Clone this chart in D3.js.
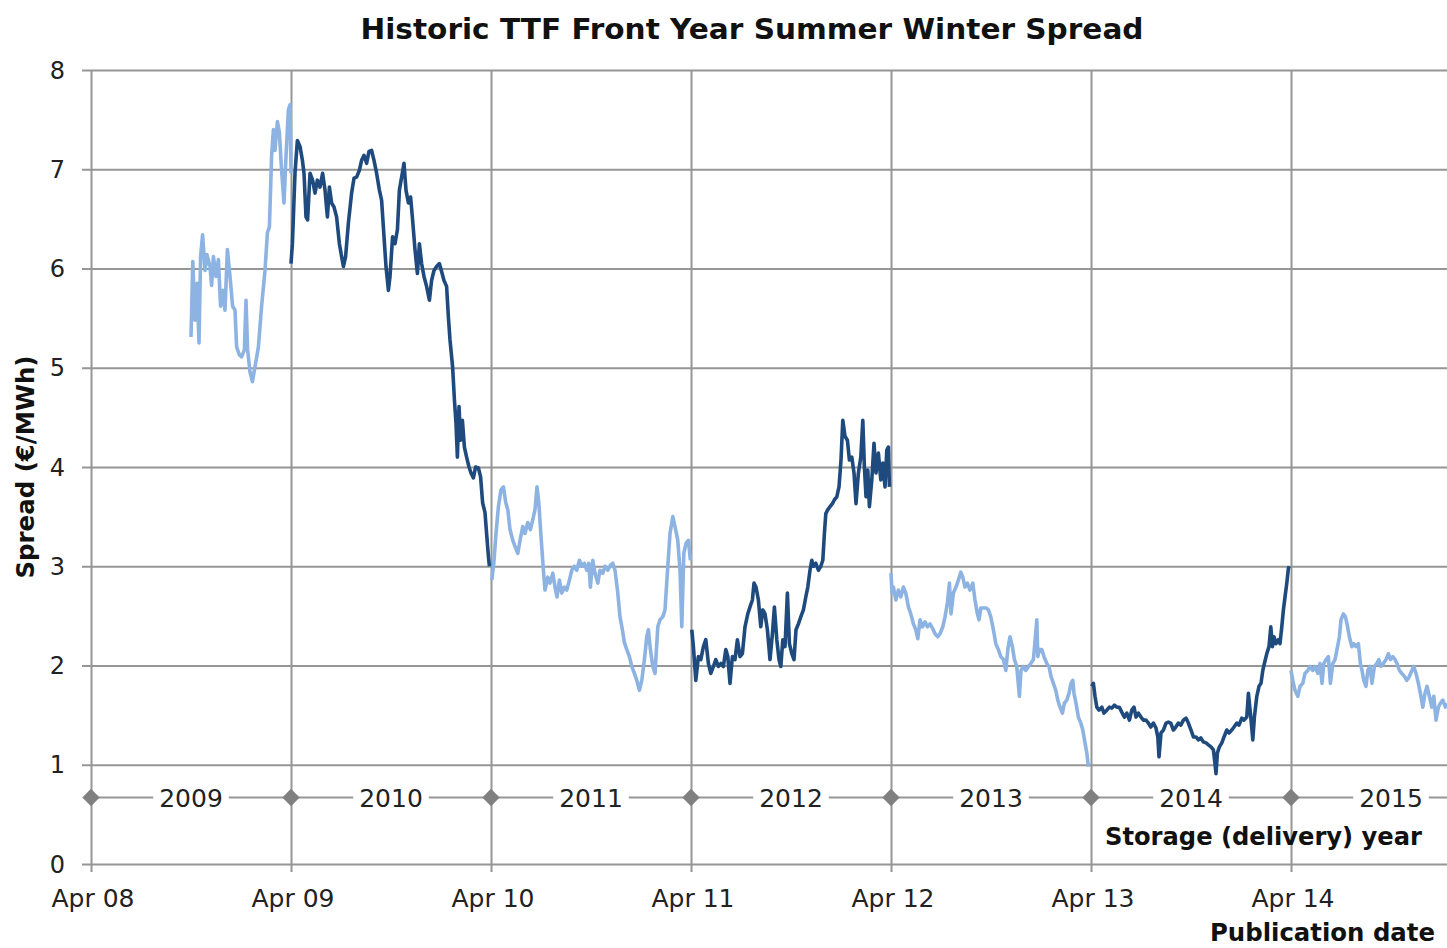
<!DOCTYPE html>
<html>
<head>
<meta charset="utf-8">
<script src="https://cdn.jsdelivr.net/npm/d3@7"></script>
<style>
  html, body { margin: 0; padding: 0; background: #fff; }
  svg { display: block; }
</style>
</head>
<body>
<svg id="chart" width="1447" height="948"></svg>
<script>
// ---------------- DATA ----------------
// Publication date as decimal year (Apr 1 = .25), spread in EUR/MWh
const storage2009 = [[2008.750,5.31],[2008.759,6.07],[2008.770,5.48],[2008.780,5.85],[2008.790,5.25],[2008.798,6.12],[2008.808,6.34],[2008.820,5.98],[2008.830,6.14],[2008.845,6.02],[2008.853,5.83],[2008.862,6.12],[2008.875,5.92],[2008.887,6.09],[2008.898,5.62],[2008.909,5.78],[2008.920,5.58],[2008.932,6.19],[2008.945,5.92],[2008.958,5.62],[2008.970,5.58],[2008.978,5.21],[2008.992,5.13],[2009.003,5.11],[2009.017,5.18],[2009.025,5.68],[2009.033,5.18],[2009.045,4.96],[2009.057,4.86],[2009.070,5.01],[2009.087,5.21],[2009.103,5.62],[2009.120,5.98],[2009.132,6.36],[2009.142,6.42],[2009.153,7.13],[2009.162,7.40],[2009.170,7.19],[2009.182,7.48],[2009.192,7.37],[2009.203,6.99],[2009.215,6.66],[2009.225,7.13],[2009.237,7.60],[2009.245,7.65],[2009.250,6.96]];
const storage2010 = [[2009.250,6.05],[2009.257,6.25],[2009.270,6.96],[2009.282,7.29],[2009.295,7.23],[2009.307,7.09],[2009.315,6.96],[2009.325,6.52],[2009.333,6.49],[2009.345,6.96],[2009.358,6.89],[2009.370,6.76],[2009.382,6.89],[2009.395,6.82],[2009.408,6.96],[2009.420,6.79],[2009.432,6.52],[2009.442,6.82],[2009.453,6.66],[2009.465,6.62],[2009.478,6.52],[2009.492,6.25],[2009.503,6.12],[2009.512,6.02],[2009.523,6.12],[2009.537,6.46],[2009.553,6.76],[2009.565,6.91],[2009.578,6.92],[2009.592,6.99],[2009.603,7.09],[2009.615,7.14],[2009.628,7.06],[2009.640,7.18],[2009.653,7.19],[2009.665,7.09],[2009.678,6.96],[2009.692,6.79],[2009.703,6.69],[2009.715,6.32],[2009.725,6.02],[2009.737,5.78],[2009.745,5.92],[2009.758,6.32],[2009.770,6.25],[2009.782,6.39],[2009.792,6.79],[2009.803,6.92],[2009.815,7.06],[2009.825,6.79],[2009.837,6.66],[2009.848,6.72],[2009.858,6.49],[2009.870,6.19],[2009.882,5.95],[2009.892,6.25],[2009.903,6.05],[2009.915,5.92],[2009.928,5.82],[2009.942,5.68],[2009.953,5.88],[2009.965,5.98],[2009.978,6.02],[2009.992,6.05],[2010.003,5.97],[2010.015,5.88],[2010.028,5.82],[2010.037,5.51],[2010.045,5.28],[2010.058,5.01],[2010.067,4.68],[2010.075,4.44],[2010.082,4.10],[2010.090,4.61],[2010.098,4.27],[2010.107,4.47],[2010.117,4.20],[2010.128,4.10],[2010.140,4.00],[2010.150,3.94],[2010.162,3.89],[2010.173,4.00],[2010.187,3.99],[2010.198,3.90],[2010.208,3.64],[2010.220,3.54],[2010.228,3.33],[2010.237,3.10],[2010.242,3.00]];
const storage2011 = [[2010.254,2.86],[2010.264,3.03],[2010.275,3.33],[2010.287,3.60],[2010.300,3.77],[2010.312,3.80],[2010.324,3.64],[2010.334,3.57],[2010.345,3.37],[2010.359,3.26],[2010.370,3.20],[2010.384,3.13],[2010.395,3.26],[2010.409,3.40],[2010.420,3.33],[2010.434,3.44],[2010.447,3.37],[2010.459,3.47],[2010.470,3.57],[2010.480,3.80],[2010.489,3.64],[2010.500,3.30],[2010.512,2.96],[2010.520,2.76],[2010.534,2.89],[2010.545,2.83],[2010.559,2.93],[2010.570,2.79],[2010.580,2.69],[2010.592,2.86],[2010.604,2.73],[2010.617,2.79],[2010.629,2.76],[2010.642,2.86],[2010.654,2.96],[2010.667,3.00],[2010.679,2.96],[2010.692,3.06],[2010.704,3.00],[2010.717,3.03],[2010.729,2.96],[2010.739,3.03],[2010.747,2.79],[2010.759,3.06],[2010.770,2.93],[2010.784,2.83],[2010.795,2.96],[2010.809,2.93],[2010.820,3.00],[2010.834,2.96],[2010.847,3.01],[2010.859,3.03],[2010.870,2.96],[2010.884,2.73],[2010.895,2.49],[2010.907,2.36],[2010.917,2.23],[2010.929,2.16],[2010.942,2.09],[2010.954,1.99],[2010.967,1.92],[2010.979,1.85],[2010.992,1.75],[2011.004,1.85],[2011.017,2.06],[2011.029,2.29],[2011.037,2.36],[2011.047,2.16],[2011.059,1.99],[2011.070,1.92],[2011.084,2.39],[2011.095,2.46],[2011.109,2.49],[2011.120,2.56],[2011.134,3.00],[2011.145,3.33],[2011.159,3.50],[2011.170,3.40],[2011.184,3.26],[2011.195,2.96],[2011.204,2.39],[2011.214,3.13],[2011.225,3.23],[2011.237,3.26],[2011.247,3.06]];
const storage2012 = [[2011.254,2.36],[2011.262,2.19],[2011.274,1.85],[2011.287,2.09],[2011.299,2.06],[2011.312,2.19],[2011.324,2.26],[2011.337,2.02],[2011.349,1.92],[2011.362,1.99],[2011.374,2.06],[2011.387,1.99],[2011.399,2.02],[2011.412,1.99],[2011.424,2.16],[2011.434,2.09],[2011.445,1.82],[2011.457,2.09],[2011.470,2.06],[2011.482,2.26],[2011.495,2.09],[2011.507,2.12],[2011.520,2.39],[2011.534,2.52],[2011.545,2.59],[2011.557,2.66],[2011.565,2.83],[2011.575,2.79],[2011.587,2.66],[2011.599,2.39],[2011.609,2.56],[2011.620,2.52],[2011.632,2.36],[2011.645,2.06],[2011.657,2.32],[2011.667,2.59],[2011.679,2.26],[2011.690,2.06],[2011.699,1.99],[2011.709,2.26],[2011.720,2.19],[2011.732,2.73],[2011.742,2.22],[2011.754,2.12],[2011.765,2.06],[2011.775,2.36],[2011.787,2.42],[2011.799,2.49],[2011.812,2.56],[2011.824,2.69],[2011.834,2.79],[2011.845,2.96],[2011.854,3.06],[2011.862,3.00],[2011.874,3.03],[2011.887,2.96],[2011.899,3.00],[2011.909,3.06],[2011.917,3.33],[2011.924,3.53],[2011.934,3.57],[2011.945,3.60],[2011.957,3.63],[2011.967,3.67],[2011.979,3.70],[2011.990,3.80],[2012.000,4.07],[2012.009,4.47],[2012.020,4.31],[2012.032,4.27],[2012.042,4.07],[2012.054,4.10],[2012.065,3.94],[2012.075,3.63],[2012.087,3.94],[2012.099,4.10],[2012.109,4.47],[2012.117,4.00],[2012.125,3.70],[2012.134,3.97],[2012.142,3.60],[2012.154,3.87],[2012.165,4.24],[2012.175,3.94],[2012.187,4.14],[2012.199,3.87],[2012.209,4.04],[2012.220,3.80],[2012.229,4.17],[2012.237,4.20],[2012.242,3.80]];
const storage2013 = [[2012.250,2.93],[2012.255,2.73],[2012.262,2.79],[2012.274,2.66],[2012.287,2.76],[2012.299,2.69],[2012.312,2.79],[2012.324,2.73],[2012.337,2.59],[2012.349,2.52],[2012.362,2.42],[2012.374,2.36],[2012.384,2.27],[2012.395,2.46],[2012.407,2.39],[2012.420,2.44],[2012.432,2.39],[2012.445,2.42],[2012.459,2.37],[2012.470,2.32],[2012.484,2.29],[2012.495,2.32],[2012.509,2.39],[2012.520,2.49],[2012.532,2.63],[2012.542,2.83],[2012.550,2.52],[2012.562,2.73],[2012.575,2.79],[2012.587,2.86],[2012.599,2.94],[2012.609,2.89],[2012.620,2.79],[2012.632,2.83],[2012.645,2.76],[2012.659,2.83],[2012.670,2.66],[2012.682,2.52],[2012.690,2.46],[2012.699,2.58],[2012.712,2.58],[2012.725,2.58],[2012.737,2.56],[2012.749,2.49],[2012.762,2.36],[2012.774,2.22],[2012.787,2.16],[2012.799,2.09],[2012.812,2.06],[2012.824,1.95],[2012.834,2.16],[2012.845,2.29],[2012.857,2.19],[2012.867,2.06],[2012.879,1.99],[2012.892,1.69],[2012.900,1.95],[2012.912,1.99],[2012.924,1.95],[2012.937,1.99],[2012.949,2.02],[2012.962,2.06],[2012.972,2.29],[2012.979,2.46],[2012.984,2.09],[2012.992,2.16],[2013.004,2.16],[2013.015,2.09],[2013.029,2.02],[2013.040,1.99],[2013.050,1.89],[2013.062,1.82],[2013.074,1.75],[2013.084,1.65],[2013.095,1.58],[2013.107,1.52],[2013.117,1.62],[2013.129,1.65],[2013.140,1.72],[2013.150,1.82],[2013.159,1.85],[2013.165,1.72],[2013.175,1.62],[2013.187,1.48],[2013.199,1.42],[2013.209,1.35],[2013.220,1.22],[2013.229,1.12],[2013.237,0.98]];
const storage2014 = [[2013.254,1.79],[2013.262,1.82],[2013.270,1.69],[2013.279,1.58],[2013.290,1.55],[2013.304,1.58],[2013.315,1.52],[2013.329,1.55],[2013.342,1.58],[2013.354,1.57],[2013.367,1.60],[2013.379,1.58],[2013.392,1.58],[2013.404,1.53],[2013.417,1.48],[2013.429,1.52],[2013.442,1.45],[2013.454,1.55],[2013.465,1.58],[2013.475,1.48],[2013.487,1.52],[2013.500,1.48],[2013.512,1.45],[2013.525,1.45],[2013.537,1.42],[2013.549,1.38],[2013.562,1.42],[2013.575,1.37],[2013.584,1.28],[2013.590,1.08],[2013.600,1.32],[2013.612,1.35],[2013.625,1.42],[2013.637,1.43],[2013.649,1.42],[2013.662,1.35],[2013.674,1.38],[2013.687,1.42],[2013.699,1.40],[2013.712,1.45],[2013.725,1.47],[2013.737,1.42],[2013.750,1.35],[2013.762,1.28],[2013.775,1.28],[2013.787,1.25],[2013.799,1.27],[2013.812,1.23],[2013.825,1.22],[2013.837,1.20],[2013.850,1.18],[2013.862,1.15],[2013.870,1.01],[2013.875,0.91],[2013.882,1.12],[2013.892,1.18],[2013.904,1.22],[2013.915,1.28],[2013.929,1.35],[2013.940,1.32],[2013.954,1.35],[2013.965,1.38],[2013.979,1.42],[2013.990,1.40],[2014.004,1.47],[2014.015,1.45],[2014.029,1.48],[2014.037,1.72],[2014.049,1.48],[2014.059,1.25],[2014.067,1.48],[2014.079,1.69],[2014.090,1.79],[2014.100,1.82],[2014.109,1.95],[2014.117,2.02],[2014.129,2.12],[2014.140,2.19],[2014.149,2.39],[2014.157,2.19],[2014.165,2.29],[2014.175,2.22],[2014.187,2.26],[2014.195,2.22],[2014.204,2.39],[2014.212,2.56],[2014.220,2.69],[2014.229,2.83],[2014.237,2.98],[2014.242,3.00]];
const storage2015 = [[2014.250,1.95],[2014.259,1.85],[2014.270,1.75],[2014.284,1.69],[2014.295,1.79],[2014.309,1.82],[2014.320,1.92],[2014.334,1.95],[2014.345,1.99],[2014.359,1.95],[2014.370,1.99],[2014.384,1.92],[2014.395,2.02],[2014.405,1.82],[2014.414,2.02],[2014.425,2.06],[2014.437,2.09],[2014.447,1.82],[2014.459,2.02],[2014.470,2.06],[2014.480,2.16],[2014.492,2.29],[2014.500,2.46],[2014.512,2.52],[2014.522,2.49],[2014.530,2.42],[2014.542,2.29],[2014.554,2.19],[2014.564,2.22],[2014.575,2.19],[2014.587,2.22],[2014.597,2.02],[2014.605,1.95],[2014.614,1.85],[2014.625,1.79],[2014.634,1.95],[2014.645,1.99],[2014.655,1.82],[2014.667,1.99],[2014.679,2.02],[2014.689,2.06],[2014.700,1.99],[2014.712,2.02],[2014.725,2.06],[2014.737,2.12],[2014.747,2.06],[2014.759,2.09],[2014.770,2.06],[2014.780,2.02],[2014.792,1.95],[2014.804,1.92],[2014.817,1.89],[2014.829,1.85],[2014.842,1.89],[2014.854,1.95],[2014.864,1.99],[2014.875,1.92],[2014.887,1.82],[2014.897,1.72],[2014.909,1.58],[2014.920,1.72],[2014.930,1.79],[2014.942,1.69],[2014.954,1.58],[2014.964,1.69],[2014.975,1.45],[2014.987,1.58],[2014.997,1.62],[2015.009,1.65],[2015.022,1.58],[2015.030,1.62]];

const storageYears = ["2009","2010","2011","2012","2013","2014","2015"];
const yTicks = [0,1,2,3,4,5,6,7,8];
const xTickYears = [2008,2009,2010,2011,2012,2013,2014];
const xTickLabels = ["Apr 08","Apr 09","Apr 10","Apr 11","Apr 12","Apr 13","Apr 14"];
const storageMarkerValue = 0.67;

const titleText = "Historic TTF Front Year Summer Winter Spread";
const yTitleText = "Spread (\u20AC/MWh)";
const storageTitle = "Storage (delivery) year";
const pubTitle = "Publication date";

// ---------------- CHART ----------------
const LIGHT = "#8db3e2", DARK = "#1f4a7e";
const GRID = "#969696";
const FONT = "'DejaVu Sans', Verdana, sans-serif";

const svg = d3.select("#chart");
const x = d3.scaleLinear().domain([2008.25, 2015.04]).range([91, 1449]);
const y = d3.scaleLinear().domain([0, 8]).range([864, 70]);

// horizontal gridlines via axis
const yAxis = d3.axisLeft(y).tickValues(yTicks).tickSize(-(1447 - 82)).tickPadding(0).tickFormat("");
const gy = svg.append("g").attr("transform", "translate(82,0)").call(yAxis);
gy.select(".domain").remove();
gy.selectAll(".tick line").attr("stroke", GRID).attr("stroke-width", 2);

// vertical gridlines via axis
const xAxis = d3.axisBottom(x).tickValues(xTickYears.map(v => v + 0.25)).tickSize(-(872 - 70)).tickFormat("");
const gx = svg.append("g").attr("transform", "translate(0,872)").call(xAxis);
gx.select(".domain").remove();
gx.selectAll(".tick line").attr("stroke", GRID).attr("stroke-width", 2);

// y tick labels
svg.append("g").selectAll("text").data(yTicks).join("text")
  .attr("x", 65).attr("y", d => y(d)).attr("dy", "0.36em")
  .attr("text-anchor", "end")
  .attr("font-family", FONT).attr("font-size", 24).attr("fill", "#222")
  .text(d => d);

// x tick labels
svg.append("g").selectAll("text").data(xTickYears).join("text")
  .attr("x", (d) => x(d + 0.25) + 2).attr("y", 907)
  .attr("text-anchor", "middle")
  .attr("font-family", FONT).attr("font-size", 25).attr("fill", "#222")
  .text((d, i) => xTickLabels[i]);

// storage year strip
const sy = y(storageMarkerValue);
svg.append("line").attr("x1", x(2008.25)).attr("x2", 1447).attr("y1", sy).attr("y2", sy)
  .attr("stroke", GRID).attr("stroke-width", 2);
const labG = svg.append("g");
storageYears.forEach((s, i) => {
  const cx = x(+s - 1 + 0.25 + 0.5);
  const t = labG.append("text").attr("x", cx).attr("y", sy).attr("dy", "0.36em")
    .attr("text-anchor", "middle").attr("font-family", FONT).attr("font-size", 25)
    .attr("fill", "#222").text(s);
  const bb = t.node().getBBox();
  labG.insert("rect", "text").attr("x", bb.x - 6).attr("y", sy - 6).attr("width", bb.width + 12)
    .attr("height", 12).attr("fill", "#fff");
});
svg.append("g").selectAll("path").data(xTickYears).join("path")
  .attr("d", d3.symbol(d3.symbolSquare, 150)())
  .attr("transform", d => `translate(${x(d + 0.25)},${sy}) rotate(45)`)
  .attr("fill", "#808080");

// series lines
const line = d3.line().x(d => x(d[0])).y(d => y(d[1]));
const series = [storage2009, storage2010, storage2011, storage2012, storage2013, storage2014, storage2015];
svg.append("g").selectAll("path").data(series).join("path")
  .attr("d", line)
  .attr("fill", "none")
  .attr("stroke", (d, i) => i % 2 === 0 ? LIGHT : DARK)
  .attr("stroke-width", 3.6)
  .attr("stroke-linejoin", "round");

// titles
function boldText(txt, attrs, len) {
  const t = svg.append("text").attr("font-family", FONT).attr("font-weight", "bold")
    .attr("fill", "#111").text(txt);
  Object.entries(attrs).forEach(([k, v]) => t.attr(k, v));
  if (len) t.attr("textLength", len).attr("lengthAdjust", "spacingAndGlyphs");
  return t;
}
boldText(titleText, {x: 752, y: 39, "text-anchor": "middle", "font-size": 29}, 783);
boldText(yTitleText, {transform: "translate(34,467) rotate(-90)", "text-anchor": "middle", "font-size": 24.5}, 223);
boldText(storageTitle, {x: 1422, y: 845, "text-anchor": "end", "font-size": 24.5}, 317);
boldText(pubTitle, {x: 1435, y: 941, "text-anchor": "end", "font-size": 24.5}, 225);
</script>
</body>
</html>
